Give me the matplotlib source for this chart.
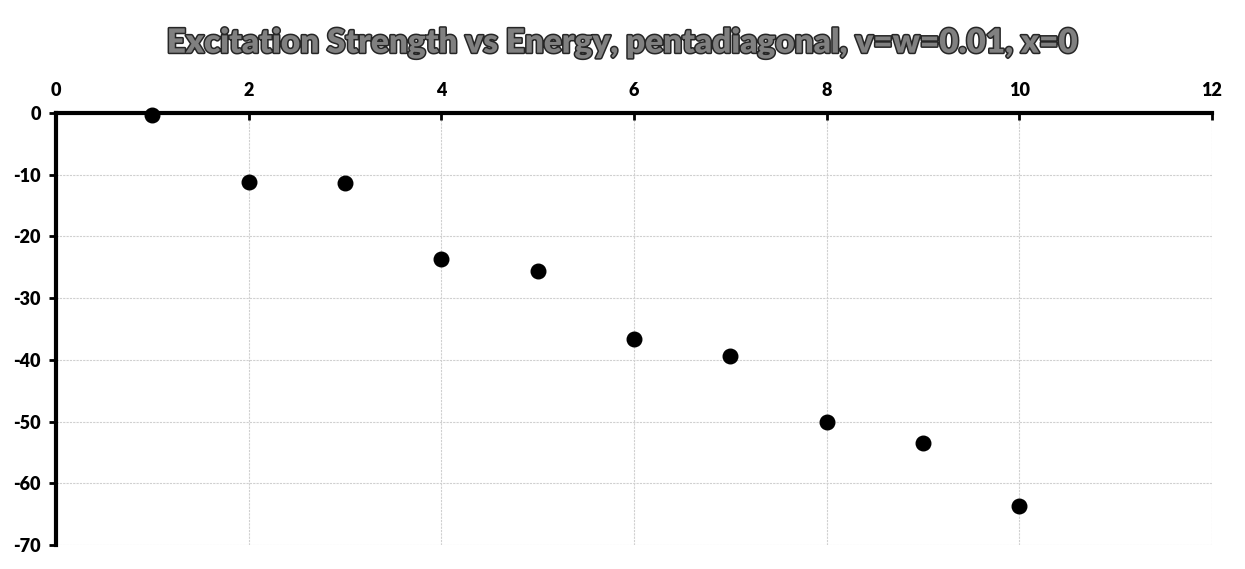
import matplotlib
matplotlib.use("Agg")
import matplotlib.pyplot as plt
import matplotlib.patheffects as pe

energy = [1, 2, 3, 4, 5, 6, 7, 8, 9, 10]
strength = [-0.3, -11.1, -11.4, -23.7, -25.6, -36.6, -39.4, -50.1, -53.5, -63.7]
x_ticks = [0, 2, 4, 6, 8, 10, 12]
y_ticks = [-70, -60, -50, -40, -30, -20, -10, 0]

plt.rcParams["font.family"] = ["Lato", "DejaVu Sans"]
plt.rcParams["axes.unicode_minus"] = False

fig = plt.figure(figsize=(12.45, 5.69), dpi=100)
ax = fig.add_axes([0.045, 0.0422, 0.9285, 0.7592])

ax.scatter(energy, strength, s=110, color="black", zorder=3, clip_on=False)

ax.set_xlim(0, 12)
ax.set_ylim(-70, 0)
ax.set_xticks(x_ticks)
ax.set_xticklabels([str(v) for v in x_ticks], fontweight="heavy", fontsize=13)
ax.set_yticks(y_ticks)
ax.set_yticklabels([str(v) for v in y_ticks], fontweight="heavy", fontsize=13)

# x axis sits at the top (y = 0), Excel style
ax.xaxis.tick_top()
ax.tick_params(axis="x", direction="in", length=5, width=2, pad=10)
ax.tick_params(axis="y", direction="out", length=5, width=2, pad=6)

ax.grid(True, color="#d0d0d0", linewidth=0.8, linestyle=(0, (2, 1)))
ax.set_axisbelow(True)

ax.spines["top"].set_linewidth(3)
ax.spines["left"].set_linewidth(3)
ax.spines["right"].set_visible(False)
ax.spines["bottom"].set_visible(False)

fig.text(0.5, 0.925, "Excitation Strength vs Energy, pentadiagonal, v=w=0.01, x=0",
         ha="center", va="center", fontsize=24, fontweight="heavy", color="#808080",
         path_effects=[pe.withStroke(linewidth=2.2, foreground="#262626")])

fig.savefig("out.png", dpi=100)
